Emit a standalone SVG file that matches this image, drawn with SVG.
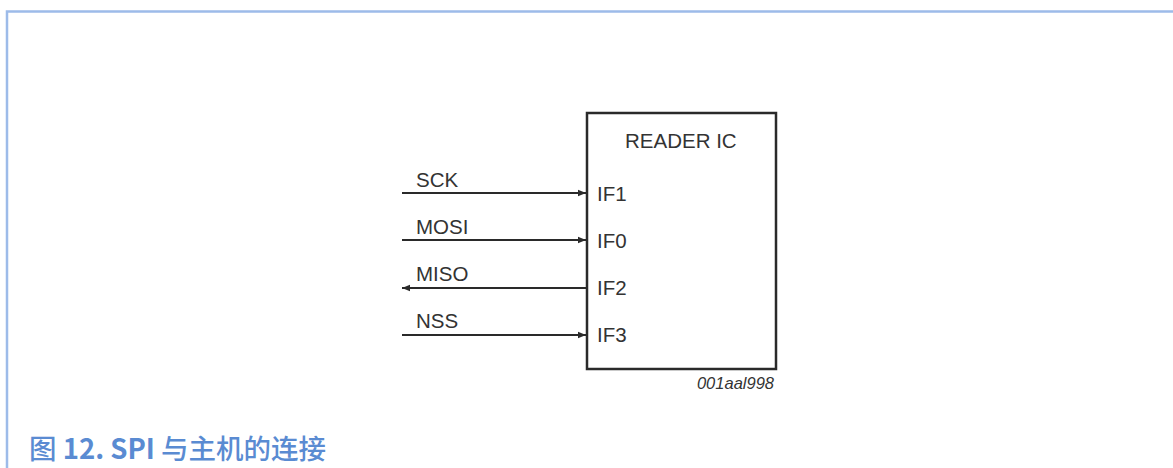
<svg xmlns="http://www.w3.org/2000/svg" width="1173" height="468" viewBox="0 0 1173 468">
<style>
.lbl{font-family:"Liberation Sans",Arial,sans-serif;font-size:20.5px;fill:#333333}
.wire{stroke:#2a2a2a;stroke-width:2;fill:none}
</style>
<defs>
<marker id="arrw" viewBox="0 0 10 10" refX="10" refY="5" markerWidth="10" markerHeight="8" orient="auto" markerUnits="userSpaceOnUse"><path d="M0,1 L10,5 L0,9 z" fill="#2a2a2a"/></marker>
</defs>
<rect width="1173" height="468" fill="#ffffff"/>
<path d="M7,468 L7,11.5 L1173,11.5" fill="none" stroke="#9dbbe9" stroke-width="2.5"/>
<g id="reader-ic">
<rect x="587" y="113" width="189" height="256" fill="#ffffff" stroke="#2a2a2a" stroke-width="2.5"/>
<text class="lbl" x="625" y="148">READER IC</text>
<text class="lbl" x="597" y="201">IF1</text>
<text class="lbl" x="597" y="248">IF0</text>
<text class="lbl" x="597" y="295">IF2</text>
<text class="lbl" x="597" y="342">IF3</text>
</g>
<g id="connectors">
<line class="wire" x1="402" y1="193" x2="586" y2="193" marker-end="url(#arrw)"/>
<line class="wire" x1="402" y1="240" x2="586" y2="240" marker-end="url(#arrw)"/>
<line class="wire" x1="587" y1="288" x2="402" y2="288" marker-end="url(#arrw)"/>
<line class="wire" x1="402" y1="335" x2="586" y2="335" marker-end="url(#arrw)"/>
</g>
<g id="signal-labels">
<text class="lbl" x="416" y="187">SCK</text>
<text class="lbl" x="416" y="234">MOSI</text>
<text class="lbl" x="416" y="281">MISO</text>
<text class="lbl" x="416" y="328">NSS</text>
</g>
<text x="774" y="389" text-anchor="end" font-family="'Liberation Sans',Arial,sans-serif" font-style="italic" font-size="16.5" fill="#333333">001aal998</text>
<text x="29" y="459" font-family="'Noto Sans CJK SC',sans-serif" font-size="27.5" font-weight="500" fill="#5a8bd2">图 <tspan font-weight="bold">12. SPI</tspan> 与主机的连接</text>
</svg>
